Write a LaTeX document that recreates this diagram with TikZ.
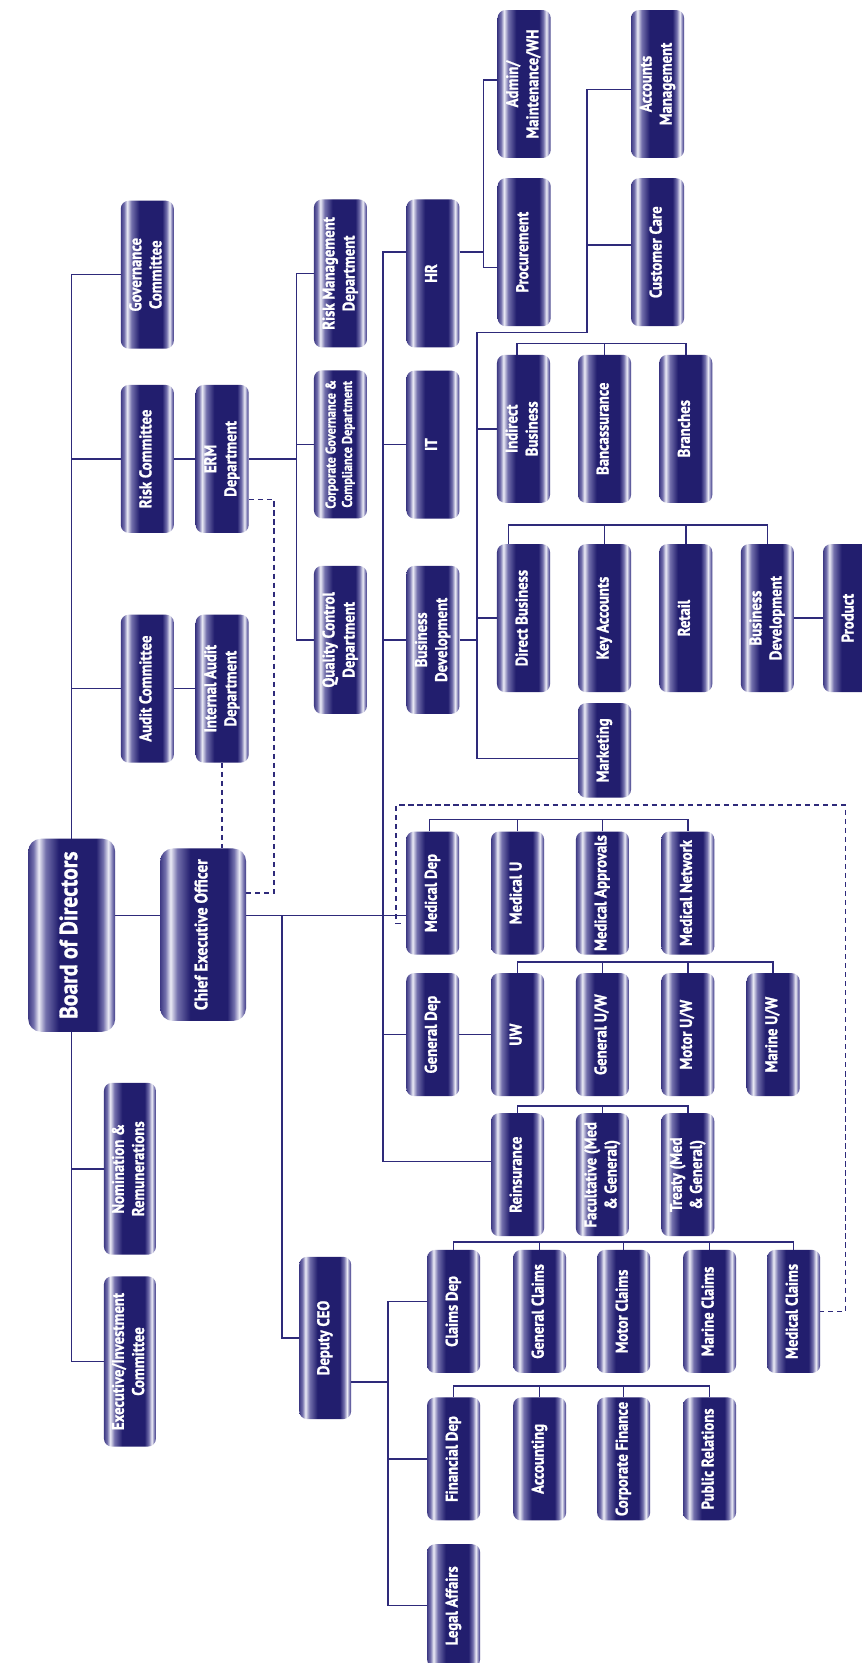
\documentclass[tikz,border=0pt]{standalone}
\usepackage{fontspec}
\usepackage{graphicx}
\newfontfamily\bxf{PT Sans Bold}[FakeStretch=0.87,FakeBold=1.2]
\usetikzlibrary{backgrounds}
\definecolor{tDark}{RGB}{34,30,110}
\definecolor{tMid}{RGB}{115,112,172}
\definecolor{tLight}{RGB}{236,236,246}
\definecolor{tEdge}{RGB}{62,58,132}
\definecolor{lineC}{RGB}{46,42,122}
\pgfdeclarehorizontalshading{tube}{100bp}{color(0bp)=(tEdge); color(25bp)=(tEdge); color(28bp)=(tMid); color(31bp)=(tLight); color(35bp)=(tMid); color(42.5bp)=(tDark); color(64bp)=(tDark); color(68bp)=(tMid); color(71bp)=(tLight); color(73.5bp)=(tMid); color(75bp)=(tEdge); color(100bp)=(tEdge)}
\newcommand\vt[1]{\rotatebox{90}{\begin{tabular}{@{}c@{}}#1\end{tabular}}}
\tikzset{
 box/.style={shade, shading=tube, rounded corners=7.5pt, minimum width=50pt, minimum height=139.5pt, inner sep=0pt, text=white, font=\bxf\fontsize{16}{19}\selectfont},
 low/.style={minimum height=116pt},
 big/.style={rounded corners=12pt, minimum width=82pt, minimum height=182pt},
 conn/.style={draw=lineC, line width=1.4pt},
 dsh/.style={draw=lineC, line width=1.4pt, dash pattern=on 5pt off 3.5pt},
}
\begin{document}
\begin{tikzpicture}[x=1pt,y=-1pt]
\path[use as bounding box] (0,0) rectangle (812,1568);
% left part
\node[box,big,font=\bxf\fontsize{23.5}{26}\selectfont] (board) at (67.6,881.8) {\vt{Board of Directors}};
\node[box,big,minimum width=81pt,minimum height=162.6pt,font=\bxf\fontsize{17}{20}\selectfont] (ceo) at (191.5,881.3) {\vt{Chief Executive Officer}};
\node[box] (gov) at (138.9,259) {\vt{Governance\\Committee}};
\node[box] (risk) at (138.9,432.7) {\vt{Risk Committee}};
\node[box] (audit) at (138.9,649.3) {\vt{Audit Committee}};
\node[box,minimum width=49pt,minimum height=162pt] (nom) at (122.5,1102) {\vt{Nomination \&\\Remunerations}};
\node[box,minimum width=49pt,minimum height=160.5pt] (exe) at (122.5,1283.7) {\vt{Executive/Investment\\Committee}};
\node[box] (erm) at (209.5,432.7) {\vt{ERM\\Department}};
\node[box] (ia) at (209.5,649.3) {\vt{Internal Audit\\Department}};
\node[box] (rm) at (321,257.8) {\vt{Risk Management\\Department}};
\node[box,font=\bxf\fontsize{13.3}{15.5}\selectfont] (cg) at (321,418.9) {\vt{Corporate Governance \&\\Compliance Department}};
\node[box] (qc) at (321,603.3) {\vt{Quality Control\\Department}};
\node[box,minimum width=49pt,minimum height=153pt] (deputy) at (306.6,1261.5) {\vt{Deputy CEO}};
% middle column
\node[box] (hr) at (408.2,257.8) {\vt{HR}};
\node[box] (it) at (408.2,419.2) {\vt{IT}};
\node[box] (bd) at (408.2,603.3) {\vt{Business\\Development}};
% upper right
\node[box] (admin) at (494.2,79.2) {\vt{Admin/\\Maintenance/WH}};
\node[box] (proc) at (494.2,237.8) {\vt{Procurement}};
\node[box] (acct) at (620,79.2) {\vt{Accounts\\Management}};
\node[box] (cc) at (620,237.8) {\vt{Customer Care}};
\node[box] (ind) at (493.6,404.3) {\vt{Indirect\\Business}};
\node[box] (banc) at (570,404.3) {\vt{Bancassurance}};
\node[box] (branches) at (646.6,404.3) {\vt{Branches}};
\node[box] (direct) at (493.6,582.8) {\vt{Direct Business}};
\node[box] (keyacc) at (570,582.8) {\vt{Key Accounts}};
\node[box] (retail) at (646.6,582.8) {\vt{Retail}};
\node[box] (bdtwo) at (723.5,582.8) {\vt{Business\\Development}};
\node[box] (product) at (801,582.8) {\vt{Product}};
\node[box,minimum height=89pt] (mkt) at (570,707.5) {\vt{Marketing}};
% lower right
\node[box,low] (meddep) at (408,842) {\vt{Medical Dep}};
\node[box,low] (medu) at (488,842) {\vt{Medical U}};
\node[box,low] (medappr) at (568,842) {\vt{Medical Approvals}};
\node[box,low] (mednet) at (648.5,842) {\vt{Medical Network}};
\node[box,low] (gendep) at (408,975.5) {\vt{General Dep}};
\node[box,low] (uw) at (488,975.5) {\vt{UW}};
\node[box,low] (genuw) at (568,975.5) {\vt{General U/W}};
\node[box,low] (motoruw) at (648.5,975.5) {\vt{Motor U/W}};
\node[box,low] (marineuw) at (729,975.5) {\vt{Marine U/W}};
\node[box,low] (reins) at (488,1107.6) {\vt{Reinsurance}};
\node[box,low] (fac) at (568,1107.6) {\vt{Facultative (Med\\\& General)}};
\node[box,low] (treaty) at (648.5,1107.6) {\vt{Treaty (Med\\\& General)}};
\node[box,low] (claims) at (427.7,1236.5) {\vt{Claims Dep}};
\node[box,low] (genclaims) at (508.8,1236.5) {\vt{General Claims}};
\node[box,low] (motorclaims) at (588,1236.5) {\vt{Motor Claims}};
\node[box,low] (marineclaims) at (669,1236.5) {\vt{Marine Claims}};
\node[box,low] (medclaims) at (748.3,1236.5) {\vt{Medical Claims}};
\node[box,low] (fin) at (427.7,1375.6) {\vt{Financial Dep}};
\node[box,low] (acc) at (508.8,1375.6) {\vt{Accounting}};
\node[box,low] (corpfin) at (588,1375.6) {\vt{Corporate Finance}};
\node[box,low] (pr) at (669,1375.6) {\vt{Public Relations}};
\node[box,low] (legal) at (427.7,1514) {\vt{Legal Affairs}};
% helper coordinates
\coordinate (bx) at (67.6,0);
\coordinate (vq) at (279.5,0);
\coordinate (tr) at (361,0);
\coordinate (vh) at (455.8,0);
\coordinate (vb) at (449.6,0);
\coordinate (va) at (553.6,0);
\coordinate (vd) at (366,0);
\coordinate (vE) at (258.4,0);
\coordinate (dl) at (373.5,0);
\coordinate (dr) at (797,0);
\coordinate (dj) at (266,863);
\coordinate (mh) at (378,870.5);
\begin{scope}[on background layer]
\fill[white] (0,0) rectangle (812,1568);
\draw[conn] (gov.west) -| (bx |- exe.west) -- (exe.west);
\draw[conn] (risk.west) -- (risk.west -| bx);
\draw[conn] (audit.west) -- (audit.west -| bx);
\draw[conn] (nom.west) -- (nom.west -| bx);
\draw[conn] (board.east |- 0,863) -- (ceo.west |- 0,863);
\draw[conn] (ceo.east |- 0,863) -- (meddep.west |- 0,863);
\draw[conn] (dj) |- (deputy.west);
\draw[conn] (risk.east) -- (erm.west);
\draw[conn] (audit.east) -- (ia.west);
\draw[conn] (rm.west) -| (vq |- qc.west) -- (qc.west);
\draw[conn] (cg.west) -- (cg.west -| vq);
\draw[conn] (erm.east) -- (erm.east -| vq);
\draw[conn] (hr.west |- 0,237.4) -| (tr |- 0,1095) -- (reins.west |- 0,1095);
\draw[conn] (it.west) -- (it.west -| tr);
\draw[conn] (bd.west) -- (bd.west -| tr);
\draw[conn] (gendep.west) -- (gendep.west -| tr);
\draw[conn] (gendep.east) -- (uw.west);
\draw[conn] (hr.east |- 0,237.4) -- (vh |- 0,237.4);
\draw[conn] (admin.west |- 0,75.4) -| (vh |- 0,252.1) -- (proc.west |- 0,252.1);
\draw[conn] (acct.west |- 0,84.3) -| (va |- 0,313.7) -| (vb |- 0,715) -- (mkt.west |- 0,715);
\draw[conn] (cc.west |- 0,231) -- (va |- 0,231);
\draw[conn] (bd.east) -- (bd.east -| vb);
\draw[conn] (ind.west) -- (ind.west -| vb);
\draw[conn] (direct.west) -- (direct.west -| vb);
\draw[conn] (bdtwo.east) -- (product.west);
\draw[conn] ([xshift=-6pt]ind.north) |- (branches.north |- 0,323.8) -- (branches.north);
\draw[conn] (banc.north) -- (banc.north |- 0,323.8);
\draw[conn] ([xshift=-14pt]direct.north) |- (bdtwo.north |- 0,495.2) -- (bdtwo.north);
\draw[conn] (keyacc.north) -- (keyacc.north |- 0,495.2);
\draw[conn] (retail.north) -- (retail.north |- 0,495.2);
\draw[conn] ([xshift=-3pt]meddep.north) |- (mednet.north |- 0,772.7) -- (mednet.north);
\draw[conn] (medu.north) -- (medu.north |- 0,772.7);
\draw[conn] (medappr.north) -- (medappr.north |- 0,772.7);
\draw[conn] (uw.north) |- (marineuw.north |- 0,907) -- (marineuw.north);
\draw[conn] (genuw.north) -- (genuw.north |- 0,907);
\draw[conn] (motoruw.north) -- (motoruw.north |- 0,907);
\draw[conn] (reins.north) |- (treaty.north |- 0,1043) -- (treaty.north);
\draw[conn] (fac.north) -- (fac.north |- 0,1043);
\draw[conn] (claims.north) |- (medclaims.north |- 0,1171) -- (medclaims.north);
\draw[conn] (genclaims.north) -- (genclaims.north |- 0,1171);
\draw[conn] (motorclaims.north) -- (motorclaims.north |- 0,1171);
\draw[conn] (marineclaims.north) -- (marineclaims.north |- 0,1171);
\draw[conn] (fin.north) |- (pr.north |- 0,1307) -- (pr.north);
\draw[conn] (acc.north) -- (acc.north |- 0,1307);
\draw[conn] (corpfin.north) -- (corpfin.north |- 0,1307);
\draw[conn] (claims.west |- 0,1227) -| (vd |- legal.west) -- (legal.west);
\draw[conn] (fin.west) -- (fin.west -| vd);
\draw[conn] (deputy.east |- 0,1303) -- (vd |- 0,1303);
\draw[dsh] (erm.east |- 0,471) -| (vE |- 0,842) -- (ceo.east |- 0,842);
\draw[dsh] (ia.south) -- (ia.south |- ceo.north);
\draw[dsh] (mh) -- (dl |- mh) |- (dr |- 0,759) |- (medclaims.east);
\end{scope}
\end{tikzpicture}
\end{document}
